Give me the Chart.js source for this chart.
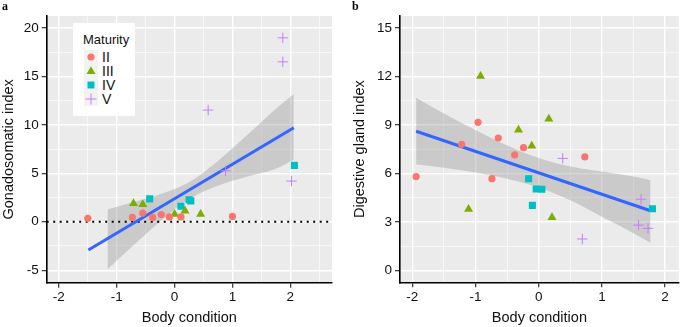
<!DOCTYPE html>
<html>
<head>
<meta charset="utf-8">
<script src="https://cdn.jsdelivr.net/npm/chart.js@4.4.0/dist/chart.umd.min.js"></script>
<style>
  body { margin: 0; background: #fff; width: 685px; height: 327px; overflow: hidden; position: relative;
         font-family: "Liberation Sans", Arial, sans-serif; }
  canvas { position: absolute; top: 0; }
  #chartA { left: 0; }
  #chartB { left: 340px; }
  .tag { position: absolute; font-family: "Liberation Serif", serif; font-weight: bold; font-size: 12px; line-height: 12px; }
  #legend { position: absolute; left: 73px; top: 23px; width: 62px; height: 93px; background: #fff; }
  #legend .ttl { position: absolute; left: 10px; top: 9px; font-size: 13px; color: #111; }
  #legend .row { position: absolute; left: 10.5px; height: 14px; width: 50px; }
  #legend svg { position: absolute; left: 0; top: 0; background: #f2f2f2; }
  #legend span { position: absolute; left: 18.5px; top: -1px; font-size: 14px; line-height: 16px; color: #111; }
</style>
</head>
<body>
<canvas id="chartA" width="340" height="327"></canvas>
<canvas id="chartB" width="345" height="327"></canvas>
<div class="tag" style="left:2px;top:0px">a</div>
<div class="tag" style="left:352px;top:0px">b</div>
<div id="legend"><div class="ttl">Maturity</div></div>

<script>
// maturity stages and their colours
const maturity = ['II', 'III', 'IV', 'V'];
const stageColors = ['#F8766D', '#7CAE00', '#00BFC4', '#C77CFF'];

// panel a: body condition (x) vs gonadosomatic index (y)
const aBodyII = [-1.50, -0.73, -0.55, -0.38, -0.23, -0.09, 0.11, 1.00];
const aGsiII = [0.35, 0.45, 0.90, 0.45, 0.75, 0.50, 0.50, 0.55];
const aBodyIII = [-0.71, -0.55, 0.00, 0.18, 0.45];
const aGsiIII = [1.90, 1.80, 0.79, 1.13, 0.79];
const aBodyIV = [-0.43, 0.11, 0.25, 0.28, 2.07];
const aGsiIV = [2.36, 1.60, 2.28, 2.16, 5.82];
const aBodyV = [1.87, 1.87, 0.58, 0.88, 2.02];
const aGsiV = [18.99, 16.51, 11.53, 5.26, 4.20];

// fitted line and confidence band, panel a
const aFitX = [-1.49, 2.06];
const aFitY = [-2.92, 9.70];
const aBandX = [-1.16, -0.75, -0.25, 0.25, 0.75, 1.25, 1.75, 2.06];
const aBandHi = [1.27, 1.95, 2.84, 4.09, 6.28, 8.92, 11.66, 13.2];
const aBandLo = [-4.89, -2.63, 0.04, 2.35, 3.72, 4.64, 5.46, 6.4];

// panel b: body condition (x) vs digestive gland index (y)
const bBodyII = [-0.96, -1.22, -0.64, -0.24, -0.38, 0.73, -1.94, -0.74];
const bDgiII = [9.16, 7.80, 8.19, 7.59, 7.14, 7.02, 5.80, 5.67];
const bBodyIII = [-0.92, -0.32, -0.11, 0.16, -1.11, 0.21];
const bDgiIII = [12.01, 8.69, 7.70, 9.37, 3.78, 3.28];
const bBodyIV = [-0.16, -0.04, 0.05, -0.10, 1.80];
const bDgiIV = [5.67, 5.03, 5.02, 4.02, 3.81];
const bBodyV = [0.38, 1.62, 1.58, 1.73, 0.69];
const bDgiV = [6.93, 4.40, 2.80, 2.60, 1.94];

const bFitX = [-1.94, 1.77];
const bFitY = [8.61, 3.69];
const bBandX = [-1.94, -1.5, -1.0, -0.5, 0, 0.5, 1.0, 1.5, 1.77];
const bBandHi = [10.68, 9.71, 8.69, 7.73, 6.96, 6.43, 6.11, 5.80, 5.58];
const bBandLo = [6.55, 6.35, 6.05, 5.67, 5.12, 4.33, 3.31, 2.30, 1.71];

// axis ticks (major get labels, minor are just grid lines)
const aXMajor = [-2, -1, 0, 1, 2];
const aXMinor = [-1.5, -0.5, 0.5, 1.5, 2.5];
const aYMajor = [-5, 0, 5, 10, 15, 20];
const aYMinor = [-2.5, 2.5, 7.5, 12.5, 17.5];
const bXMajor = [-2, -1, 0, 1, 2];
const bXMinor = [-1.5, -0.5, 0.5, 1.5];
const bYMajor = [0, 3, 6, 9, 12, 15];
const bYMinor = [1.5, 4.5, 7.5, 10.5, 13.5];

const pointStyles = ['circle', 'triangle', 'rect', 'cross'];
const pointRadii = [3.6, 5.2, 5, 5.2];

function zip(xs, ys) {
    return xs.map((x, i) => ({ x: x, y: ys[i] }));
}

// grey panel background like ggplot
const panelBg = {
    id: 'panelBg',
    beforeDraw(chart) {
        const { ctx, chartArea: a } = chart;
        ctx.save();
        ctx.fillStyle = '#EBEBEB';
        ctx.fillRect(a.left, a.top, a.right - a.left, a.bottom - a.top);
        ctx.restore();
    }
};

function makeAxis(majors, minors, min, max, title, size, titlePad, horizontal) {
    return {
        type: 'linear',
        min: min,
        max: max,
        afterBuildTicks: s => {
            s.ticks = majors.concat(minors).sort((p, q) => p - q).map(v => ({ value: v }));
        },
        afterFit: s => {
            if (horizontal) s.height = size; else s.width = size;
        },
        ticks: {
            autoSkip: false,
            maxRotation: 0,
            padding: horizontal ? 1.5 : 3,
            color: '#111',
            font: { family: 'Liberation Sans', size: 13.5 },
            callback: v => majors.includes(v) ? String(v) : ''
        },
        grid: {
            color: '#ffffff',
            lineWidth: c => majors.includes(c.tick.value) ? 1.4 : 0.6,
            tickColor: c => majors.includes(c.tick.value) ? '#222' : 'rgba(0,0,0,0)',
            tickWidth: 1.1,
            tickLength: 5
        },
        border: { display: true, color: '#000', width: 1.6 },
        title: {
            display: true,
            text: title,
            color: '#111',
            font: { family: 'Liberation Sans', size: 14.5, lineHeight: 1.2 },
            padding: titlePad
        }
    };
}

function pointSets(xs, ys) {
    return maturity.map((m, i) => ({
        type: 'scatter',
        label: m,
        data: zip(xs[i], ys[i]),
        pointStyle: pointStyles[i],
        pointRadius: pointRadii[i],
        backgroundColor: stageColors[i],
        borderColor: stageColors[i],
        borderWidth: i === 3 ? 1 : 0,
        order: 0
    }));
}

function fitSets(fitX, fitY, bandX, hi, lo) {
    return [
        {
            type: 'line',
            data: zip(fitX, fitY),
            borderColor: '#3366FF',
            borderWidth: 3,
            pointRadius: 0,
            fill: false,
            order: 1
        },
        {
            type: 'line',
            data: zip(bandX, hi),
            borderWidth: 0,
            borderColor: 'rgba(0,0,0,0)',
            backgroundColor: 'rgba(153,153,153,0.4)',
            pointRadius: 0,
            cubicInterpolationMode: 'monotone',
            fill: '+1',
            order: 3
        },
        {
            type: 'line',
            data: zip(bandX, lo),
            borderWidth: 0,
            borderColor: 'rgba(0,0,0,0)',
            pointRadius: 0,
            cubicInterpolationMode: 'monotone',
            fill: false,
            order: 3
        }
    ];
}

const commonPlugins = {
    legend: { display: false },
    tooltip: { enabled: false }
};

// panel a
const aXMin = -2.21, aXMax = 2.72;
const datasetsA = pointSets([aBodyII, aBodyIII, aBodyIV, aBodyV], [aGsiII, aGsiIII, aGsiIV, aGsiV])
    .concat(fitSets(aFitX, aFitY, aBandX, aBandHi, aBandLo));
// dotted reference line at zero
datasetsA.push({
    type: 'line',
    data: [{ x: aXMin, y: 0 }, { x: aXMax, y: 0 }],
    borderColor: '#000',
    borderWidth: 2,
    borderDash: [2, 4.5],
    pointRadius: 0,
    fill: false,
    order: 2
});

new Chart(document.getElementById('chartA'), {
    type: 'scatter',
    data: { datasets: datasetsA },
    options: {
        responsive: false,
        animation: false,
        layout: { padding: { top: 16, right: 8, left: 0, bottom: 0 } },
        plugins: commonPlugins,
        scales: {
            x: makeAxis(aXMajor, aXMinor, aXMin, aXMax, 'Body condition', 44.3, { top: 0, bottom: 0 }, true),
            y: makeAxis(aYMajor, aYMinor, -6.29, 21.24, 'Gonadosomatic index', 46.7, { top: 0.5, bottom: 0 }, false)
        }
    },
    plugins: [panelBg]
});

// panel b
const datasetsB = pointSets([bBodyII, bBodyIII, bBodyIV, bBodyV], [bDgiII, bDgiIII, bDgiIV, bDgiV])
    .concat(fitSets(bFitX, bFitY, bBandX, bBandHi, bBandLo));

new Chart(document.getElementById('chartB'), {
    type: 'scatter',
    data: { datasets: datasetsB },
    options: {
        responsive: false,
        animation: false,
        layout: { padding: { top: 16, right: 0, left: 0, bottom: 0 } },
        plugins: commonPlugins,
        scales: {
            x: makeAxis(bXMajor, bXMinor, -2.195, 2.217, 'Body condition', 44.7, { top: 0, bottom: 0 }, true),
            y: makeAxis(bYMajor, bYMinor, -0.74, 15.74, 'Digestive gland index', 60, { top: 11, bottom: 0 }, false)
        }
    },
    plugins: [panelBg]
});

// legend inside panel a
const legend = document.getElementById('legend');
const symbols = [
    c => `<circle cx="7" cy="7" r="3.6" fill="${c}"/>`,
    c => `<polygon points="7,2.3 11.5,10.1 2.5,10.1" fill="${c}"/>`,
    c => `<rect x="3.5" y="3.5" width="7" height="7" fill="${c}"/>`,
    c => `<path d="M7 1.5V12.5M1.5 7H12.5" stroke="${c}" stroke-width="1"/>`
];
maturity.forEach((m, i) => {
    const row = document.createElement('div');
    row.className = 'row';
    row.style.top = (27 + i * 14) + 'px';
    row.innerHTML = `<svg width="14" height="14">${symbols[i](stageColors[i])}</svg><span>${m}</span>`;
    legend.appendChild(row);
});
</script>
</body>
</html>
